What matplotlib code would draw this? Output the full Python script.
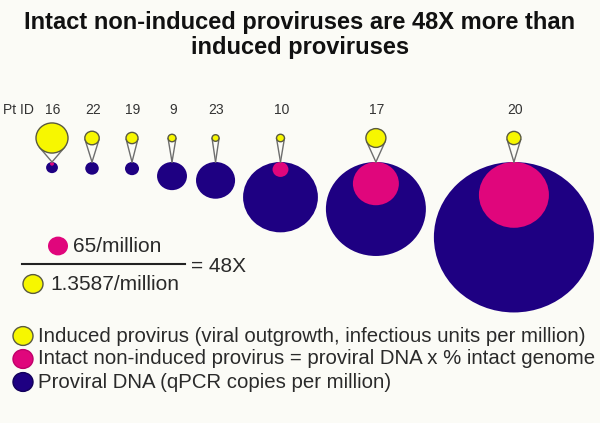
import matplotlib.pyplot as plt
from matplotlib.patches import Ellipse
import numpy as np

plt.rcParams['font.family'] = ['Liberation Sans', 'DejaVu Sans']

# data
pt_ids = ['16', '22', '19', '9', '23', '10', '17', '20']
induced = [5.2, 1.05, 0.73, 0.32, 0.25, 0.32, 2.03, 1.0]      # infectious units per million
intact = [1.1, 0, 0, 0, 0, 18, 151, 350]                        # intact non-induced per million
proviral = [10, 13, 14, 64, 109, 400, 714, 1830]                # qPCR copies per million
ratio_top = '65/million'
ratio_bottom = '1.3587/million'
ratio_text = '= 48X'
title = 'Intact non-induced proviruses are 48X more than\ninduced proviruses'
legend_labels = ['Induced provirus (viral outgrowth, infectious units per million)',
                 'Intact non-induced provirus = proviral DNA x % intact genome',
                 'Proviral DNA (qPCR copies per million)']

YELLOW = '#f7f700'
PINK = '#e0067c'
NAVY = '#1e0082'
BG = '#fbfbf6'
SQ = 0.94          # slide is a little squashed vertically

fig = plt.figure(figsize=(6, 4.23), dpi=100, facecolor=BG)
ax = fig.add_axes([0, 0, 1, 1])
ax.set_xlim(0, 600)
ax.set_ylim(423, 0)
ax.axis('off')


def disc(x, y, r, color, edge='none', lw=0, z=2):
    ax.add_patch(Ellipse((x, y), 2 * r, 2 * r * SQ, facecolor=color,
                         edgecolor=edge, lw=lw, zorder=z))


# radii from values (area ~ value)
r_ind = np.sqrt(np.array(induced) / 0.0203)
r_int = np.sqrt(np.array(intact) * 3.5)
r_dna = np.sqrt(np.array(proviral) * 3.5)

# pack the patients left to right
half = np.maximum(np.maximum(r_dna, r_ind), 16)
gap = 8
xs = []
cursor = 36
for h in half:
    xs.append(cursor + h)
    cursor += 2 * h + gap

top = 162
y_ind = 138
y_lab = 110

ax.text(3, y_lab, 'Pt ID', fontsize=10, color='#333333', va='center', ha='left')
for i, pid in enumerate(pt_ids):
    x = xs[i]
    ax.text(x + 1, y_lab, pid, fontsize=10, color='#333333', va='center', ha='center')
    # proviral DNA
    disc(x, top + r_dna[i] * SQ, r_dna[i], NAVY, z=2)
    # intact part, hanging from the top
    if r_int[i] > 0:
        disc(x, top + r_int[i] * SQ, r_int[i], PINK, z=3)
    # cone from yellow to the top of the blue circle
    r = r_ind[i]
    d = (top - y_ind) / SQ
    c = min(r / d, 0.99)
    s = np.sqrt(1 - c ** 2)
    for sgn in (-1, 1):
        ax.plot([x + sgn * r * s, x], [y_ind + r * c * SQ, top], color='#6e6e6e',
                lw=1, zorder=4)
    disc(x, y_ind, r, YELLOW, edge='#5a5a40', lw=1, z=5)

# title
ax.text(300, 35, title, fontsize=17, fontweight='bold', color='#111111',
        ha='center', va='center', linespacing=1.1)

# ratio
disc(58, 246, 10, PINK, z=3)
ax.text(73, 247, ratio_top, fontsize=15, color='#2a2a2a', va='center', ha='left')
ax.plot([22, 185], [264, 264], color='#222222', lw=1.5)
ax.text(191, 266, ratio_text, fontsize=15, color='#2a2a2a', va='center', ha='left')
disc(33, 284, 10, YELLOW, edge='#5a5a40', lw=1, z=3)
ax.text(50, 285, ratio_bottom, fontsize=15, color='#2a2a2a', va='center', ha='left')

# legend
leg_colors = [YELLOW, PINK, NAVY]
leg_edges = ['#5a5a40', '#c0006a', '#12005a']
for k, (lab, col) in enumerate(zip(legend_labels, leg_colors)):
    y = 336 + 23 * k
    disc(23, y, 10, col, edge=leg_edges[k], lw=1, z=3)
    ax.text(38, y, lab, fontsize=14.7, color='#2a2a2a', va='center', ha='left')

fig.savefig('out.png', dpi=100, facecolor=BG)
